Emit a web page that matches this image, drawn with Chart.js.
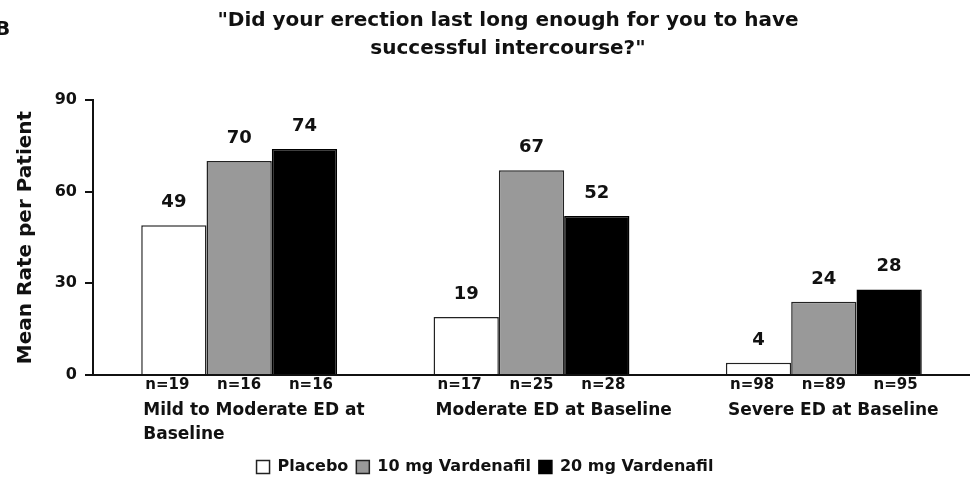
<!DOCTYPE html>
<html>
<head>
<meta charset="utf-8">
<script src="https://cdn.jsdelivr.net/npm/chart.js@4"></script>
<style>
  body { margin: 0; background: #fff; }
  #wrap { width: 970px; height: 491px; }
</style>
</head>
<body>
<div id="wrap"><canvas id="bar-chart"></canvas></div>
<script>
var categories = [['Mild to Moderate ED at', 'Baseline'], ['Moderate ED at Baseline'], ['Severe ED at Baseline']];
var placebo = [49, 19, 4];
var vard10 = [70, 67, 24];
var vard20 = [74, 52, 28];
var nPlacebo = [19, 17, 98];
var nVard10 = [16, 25, 89];
var nVard20 = [16, 28, 95];
var yTicks = [0, 30, 60, 90];
var titleLines = ['"Did your erection last long enough for you to have', 'successful intercourse?"'];

var FONT = '"DejaVu Sans", Verdana, sans-serif';

// values above bars, n= under bars, group labels, title
var labelsPlugin = {
    id: 'labels',
    afterDraw: function (chart) {
        var ctx = chart.ctx;
        var area = chart.chartArea;
        var nLists = [nPlacebo, nVard10, nVard20];
        var middle = chart.getDatasetMeta(1);
        ctx.save();
        ctx.fillStyle = '#111';
        ctx.textAlign = 'center';
        chart.data.datasets.forEach(function (ds, i) {
            var meta = chart.getDatasetMeta(i);
            meta.data.forEach(function (bar, j) {
                ctx.font = 'bold 18px ' + FONT;
                ctx.textBaseline = 'alphabetic';
                ctx.fillText(ds.data[j], bar.x, bar.y - 18);
                var cx = middle.data[j].x;
                ctx.font = 'bold 15px ' + FONT;
                ctx.textBaseline = 'middle';
                ctx.fillText('n=' + nLists[i][j], cx + (bar.x - cx) * 1.1, area.bottom + 10);
            });
        });
        var first = chart.getDatasetMeta(0);
        ctx.textAlign = 'left';
        ctx.textBaseline = 'middle';
        ctx.font = 'bold 17px ' + FONT;
        first.data.forEach(function (bar, j) {
            var left = bar.x - bar.width / 2 + 2;
            categories[j].forEach(function (line, k) {
                ctx.fillText(line, left, area.bottom + 36 + k * 24);
            });
        });
        ctx.textAlign = 'center';
        ctx.font = 'bold 20px ' + FONT;
        titleLines.forEach(function (line, k) {
            ctx.fillText(line, 508, 21 + k * 28);
        });
        ctx.textAlign = 'left';
        ctx.fillText('B', -5, 30);
        ctx.restore();
    }
};

var ctx = document.getElementById('bar-chart');
var chart = new Chart(ctx, {
    type: 'bar',
    data: {
        labels: ['Mild to Moderate', 'Moderate', 'Severe'],
        datasets: [{
            label: 'Placebo',
            backgroundColor: '#ffffff',
            borderColor: '#222222',
            borderWidth: 1.5,
            data: placebo
        }, {
            label: '10 mg Vardenafil',
            backgroundColor: '#999999',
            borderColor: '#222222',
            borderWidth: 1.5,
            data: vard10
        }, {
            label: '20 mg Vardenafil',
            backgroundColor: '#000000',
            borderColor: '#000000',
            borderWidth: 1.5,
            data: vard20
        }]
    },
    options: {
        responsive: true,
        maintainAspectRatio: false,
        animation: false,
        layout: { padding: { top: 100, right: 0, bottom: 6, left: 0 } },
        datasets: {
            bar: { categoryPercentage: 0.67, barPercentage: 1 }
        },
        plugins: {
            legend: {
                position: 'bottom',
                labels: {
                    color: '#111',
                    boxWidth: 13,
                    boxHeight: 13,
                    padding: 8,
                    font: { family: FONT, size: 16, weight: 'bold' }
                }
            },
            tooltip: { enabled: false }
        },
        scales: {
            x: {
                grid: { display: false },
                border: { display: true, color: '#111', width: 2 },
                ticks: { display: false },
                afterFit: function (scale) { scale.height = 76; }
            },
            y: {
                min: 0,
                max: 90,
                afterBuildTicks: function (scale) {
                    scale.ticks = yTicks.map(function (v) { return { value: v }; });
                },
                grid: { display: true, drawOnChartArea: false, drawTicks: true, tickLength: 8, color: '#111', lineWidth: 2 },
                border: { display: true, color: '#111', width: 2 },
                ticks: {
                    color: '#111',
                    padding: 8,
                    font: { family: FONT, size: 16, weight: 'bold' }
                },
                title: {
                    display: true,
                    text: 'Mean Rate per Patient',
                    color: '#111',
                    padding: { top: 14, bottom: 0 },
                    font: { family: FONT, size: 20, weight: 'bold' }
                },
                afterFit: function (scale) { scale.width = 93; }
            }
        }
    },
    plugins: [labelsPlugin]
});
</script>
</body>
</html>
